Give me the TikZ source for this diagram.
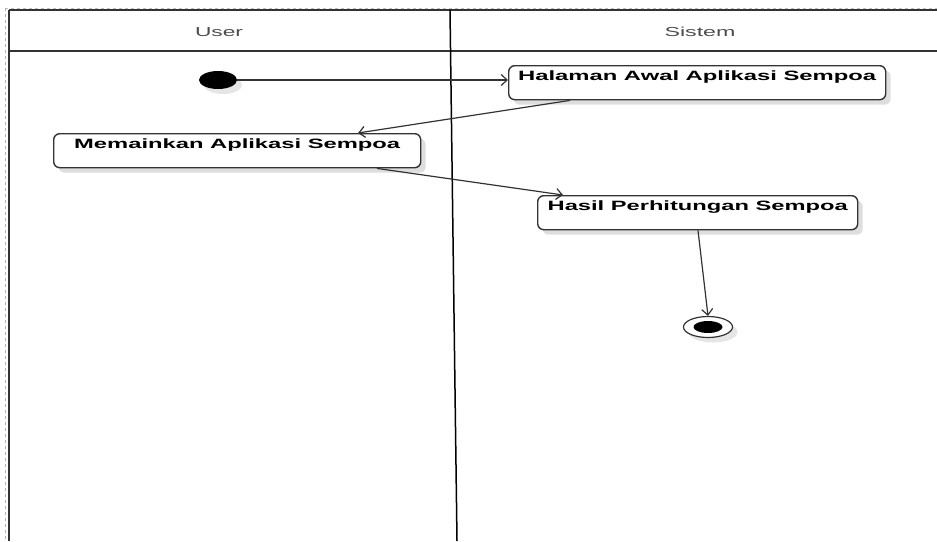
\documentclass[tikz,border=0pt]{standalone}
\usepackage{fontspec}
\setmainfont{Liberation Sans}
\usetikzlibrary{arrows.meta,shapes.geometric,shadows}
\newcommand{\lbl}[2]{\resizebox{#1}{\height}{#2}}

\begin{document}
\begin{tikzpicture}[x=1pt, y=-1pt,
    act/.style={draw=black!80, line width=1.4pt, rounded corners=6pt, fill=white, anchor=north west, inner sep=0pt, minimum height=34pt, text height=15pt, text depth=19pt, font=\bfseries\fontsize{13.5}{13.5}\selectfont, drop shadow={shadow xshift=5pt, shadow yshift=-5pt, fill=black!25, opacity=.5}},
    lane/.style={font=\fontsize{13}{13}\selectfont, text=black!70},
    flow/.style={draw=black!80, line width=1.2pt, -{Straight Barb[length=6pt, width=11pt]}}]
    \useasboundingbox[fill=white] (0,0) rectangle (937,541);

    % Swimlanes
    \draw[black!25, dashed] (5,8) -- (937,8);
    \draw[black!30, dashed] (5,8) -- (5,541);
    \draw[black!80, line width=1.2pt] (9,10) -- (937,10);
    \draw[black!80, line width=1.2pt] (9,51) -- (937,51);
    \draw[black!80, line width=2pt] (9,10) -- (9,541);
    \draw[black, line width=1.5pt] (450,10) -- (457,541);
    \node[lane] (user) at (219,32) {\lbl{48pt}{User}};
    \node[lane] (sistem) at (700,32) {\lbl{71pt}{Sistem}};

    % Activities
    \node[ellipse, fill=black, inner sep=0pt, minimum width=38pt, minimum height=18pt, drop shadow={shadow xshift=5pt, shadow yshift=-5pt, fill=black!20, opacity=.5}] (start) at (218,80) {};
    \node[act, minimum width=377pt] (halaman) at (508,65) {\lbl{358pt}{Halaman Awal Aplikasi Sempoa}};
    \node[act, minimum width=367pt] (memainkan) at (53,133) {\lbl{326pt}{Memainkan Aplikasi Sempoa}};
    \node[act, minimum width=320pt] (hasil) at (537,195) {\lbl{300pt}{Hasil Perhitungan Sempoa}};
    \node[ellipse, draw=black!80, line width=1.2pt, fill=white, inner sep=0pt, minimum width=49pt, minimum height=21pt, drop shadow={shadow xshift=5pt, shadow yshift=-5pt, fill=black!20, opacity=.5}] (end) at (708,327) {};
    \node[ellipse, fill=black, inner sep=0pt, minimum width=29pt, minimum height=12pt] (end-dot) at (end) {};

    % Transitions
    \draw[flow] (start.east) -- (start -| halaman.west);
    \draw[flow] ([xshift=62pt]halaman.south west) -- ([xshift=305pt]memainkan.north west);
    \draw[flow] ([xshift=324pt]memainkan.south west) -- ([xshift=26pt]hasil.north west);
    \draw[flow] ([xshift=161pt]hasil.south west) -- (end.north);

\end{tikzpicture}
\end{document}
